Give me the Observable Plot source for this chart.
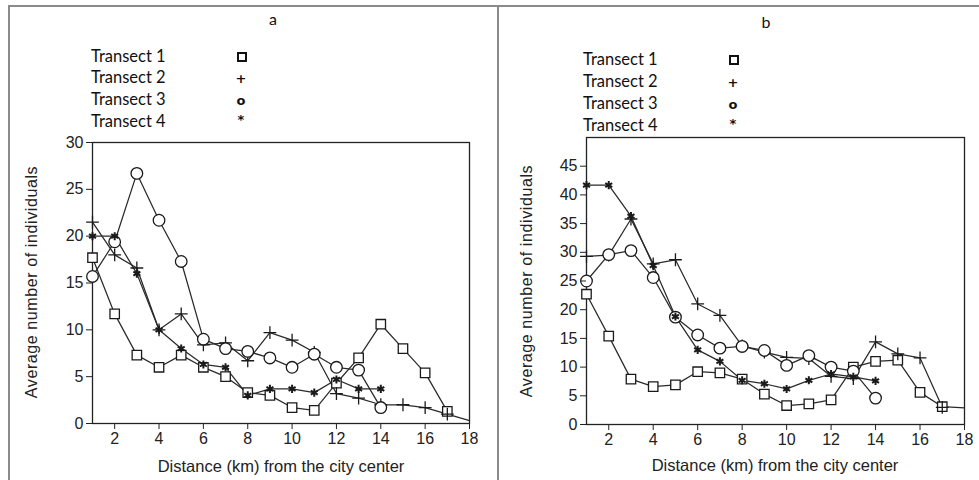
<!DOCTYPE html>
<html>
<head>
<meta charset="utf-8">
<script src="https://cdn.jsdelivr.net/npm/d3@7"></script>
<script src="https://cdn.jsdelivr.net/npm/@observablehq/plot@0.6"></script>
<style>
  html, body { margin: 0; padding: 0; background: #fff; }
  #root { position: relative; width: 979px; height: 480px; overflow: hidden; font-family: "Liberation Sans", Arial, sans-serif; }
  .abs { position: absolute; }
  .leg { position: absolute; font-family: Lato, "Open Sans", sans-serif; font-size: 16.5px; color: #111; line-height: 1; }
  .sym { position: absolute; font-family: "DejaVu Sans", sans-serif; font-weight: bold; font-size: 13px; color: #111; line-height: 1; transform: translate(-50%, -50%); }
  .panelTitle { position: absolute; font-family: Lato, "Open Sans", sans-serif; font-size: 16px; color: #111; transform: translate(-50%, -50%); }
  .axlab { position: absolute; font-size: 16.5px; color: #222; white-space: nowrap; transform: translate(-50%, -50%); }
  .ylab { font-size: 16px; letter-spacing: 0.6px; }
  .border { position: absolute; background: #8a8a8a; }
  .pl text { font-size: 16px; font-family: "Liberation Sans", Arial, sans-serif; fill: #222; }
</style>
</head>
<body>
<div id="root"></div>
<script>
// ---------- data ----------
const transects = ["Transect 1", "Transect 2", "Transect 3", "Transect 4"];
const legendGlyphs = ["□", "+", "o", "*"];

// Panel a (x = distance km starting at 1)
const a_t1 = [17.7, 11.7, 7.3, 6.0, 7.3, 6.0, 5.0, 3.3, 3.0, 1.7, 1.4, 4.3, 7.0, 10.6, 8.0, 5.4, 1.3];
const a_t2 = [21.5, 18.0, 16.6, 10.0, 11.7, 8.4, 8.6, 6.7, 9.7, 8.9, 7.6, 3.2, 2.7, 2.0, 2.0, 1.7, 1.0, 0.3];
const a_t3 = [15.7, 19.4, 26.7, 21.7, 17.3, 9.0, 8.0, 7.7, 7.0, 6.0, 7.4, 6.0, 5.7, 1.7];
const a_t4 = [20.0, 20.0, 16.0, 10.0, 8.0, 6.3, 6.0, 3.0, 3.7, 3.7, 3.3, 4.7, 3.7, 3.7];

// Panel b
const b_t1 = [22.7, 15.4, 7.9, 6.6, 6.9, 9.2, 9.0, 7.9, 5.3, 3.3, 3.6, 4.3, 10.0, 11.0, 11.2, 5.6, 3.1, 2.9];
const b_t2 = [29.3, 29.5, 35.8, 28.0, 28.7, 21.0, 19.0, 13.7, 12.6, 11.7, 11.5, 8.4, 8.0, 14.4, 12.3, 11.6, 3.0];
const b_t3 = [25.0, 29.6, 30.3, 25.6, 18.7, 15.6, 13.3, 13.6, 12.9, 10.3, 12.0, 10.0, 9.3, 4.6];
const b_t4 = [41.7, 41.7, 36.3, 27.7, 18.8, 13.0, 11.0, 7.7, 7.1, 6.2, 7.7, 8.8, 8.3, 7.6];

const xTicks = [2, 4, 6, 8, 10, 12, 14, 16, 18];
const aYTicks = [0, 5, 10, 15, 20, 25, 30];
const bYTicks = [0, 5, 10, 15, 20, 25, 30, 35, 40, 45];
const xLabel = "Distance (km) from the city center";
const yLabel = "Average number of individuals";
const symbols = {"Transect 1": "square2", "Transect 2": "plus", "Transect 3": "circle", "Transect 4": "asterisk"};
const radii = {"Transect 1": 6, "Transect 2": 4.2, "Transect 3": 5.8, "Transect 4": 3.8};

function toRows(series) {
  const rows = [];
  series.forEach((vals, i) => vals.forEach((v, j) => rows.push({series: transects[i], x: j + 1, y: v})));
  return rows;
}
const aRows = toRows([a_t1, a_t2, a_t3, a_t4]);
const bRows = toRows([b_t1, b_t2, b_t3, b_t4]);

function makePlot(rows, opts) {
  const dotRows = rows.filter(d => d.x < 18);
  return Plot.plot({
    className: "pl",
    width: opts.width, height: 480,
    marginLeft: opts.ml, marginRight: opts.mr, marginTop: opts.mt, marginBottom: opts.mb,
    style: {fontFamily: '"Liberation Sans", Arial, sans-serif', fontSize: "16px", color: "#222", background: "transparent", overflow: "visible"},
    x: {domain: [1, 18], ticks: xTicks, label: null},
    y: {domain: opts.ydomain, ticks: opts.yticks, label: null},
    marks: [
      Plot.frame({stroke: "#222", strokeWidth: 1.3}),
      Plot.line(rows, {x: "x", y: "y", z: "series", stroke: "#2a2a2a", strokeWidth: 1.25}),
      ...transects.map(t => Plot.dot(dotRows.filter(d => d.series === t), {
        x: "x", y: "y", symbol: () => symbols[t], r: radii[t],
        stroke: "#1a1a1a", fill: t === "Transect 4" ? "#1a1a1a" : "white", strokeWidth: t === "Transect 4" ? 2 : 1.3
      })),
      Plot.axisX({ticks: xTicks, tickSize: 6, tickPadding: 3, label: null}),
      Plot.axisY({ticks: opts.yticks, tickSize: 6, tickPadding: 3, label: null})
    ]
  });
}

const root = document.getElementById("root");
function add(html) { root.insertAdjacentHTML("beforeend", html); }

// Borders
add('<div class="border" style="left:8px;top:5px;width:971px;height:1.5px"></div>');
add('<div class="border" style="left:8px;top:5px;width:1.5px;height:475px"></div>');
add('<div class="border" style="left:497px;top:5px;width:2px;height:475px"></div>');

// Panel a
const pa = makePlot(aRows, {width: 498, ml: 92, mr: 29, mt: 142, mb: 57, ydomain: [0, 30], yticks: aYTicks});
pa.style.position = "absolute"; pa.style.left = "0px"; pa.style.top = "0px";
root.appendChild(pa);

// Panel b
const pb = makePlot(bRows, {width: 481, ml: 88, mr: 15, mt: 137, mb: 56, ydomain: [0, 50], yticks: bYTicks});
pb.style.position = "absolute"; pb.style.left = "498px"; pb.style.top = "0px";
root.appendChild(pb);

// Titles
add('<div class="panelTitle" style="left:273px;top:18px">a</div>');
add('<div class="panelTitle" style="left:766px;top:21px">b</div>');

// Legends
function legend(lx, sx, ys) {
  transects.forEach((t, i) => {
    add(`<div class="leg" style="left:${lx}px;top:${ys[i] - 9}px">${t}</div>`);
    if (i === 0) {
      add(`<div class="abs" style="left:${sx - 4}px;top:${ys[i] - 5}px;width:6px;height:6px;border:2px solid #111"></div>`);
    } else {
      add(`<div class="sym" style="left:${sx}px;top:${ys[i] + (i === 3 ? -3 : 0)}px">${legendGlyphs[i]}</div>`);
    }
  });
}
legend(91, 241, [57, 78, 100, 122]);
legend(583, 733, [60, 82, 104, 126]);

// Axis titles
add(`<div class="axlab" style="left:281px;top:466px">${xLabel}</div>`);
add(`<div class="axlab" style="left:775px;top:465px">${xLabel}</div>`);
add(`<div class="axlab ylab" style="left:32px;top:282px;transform:translate(-50%,-50%) rotate(-90deg)">${yLabel}</div>`);
add(`<div class="axlab ylab" style="left:527px;top:281px;transform:translate(-50%,-50%) rotate(-90deg)">${yLabel}</div>`);
</script>
</body>
</html>
